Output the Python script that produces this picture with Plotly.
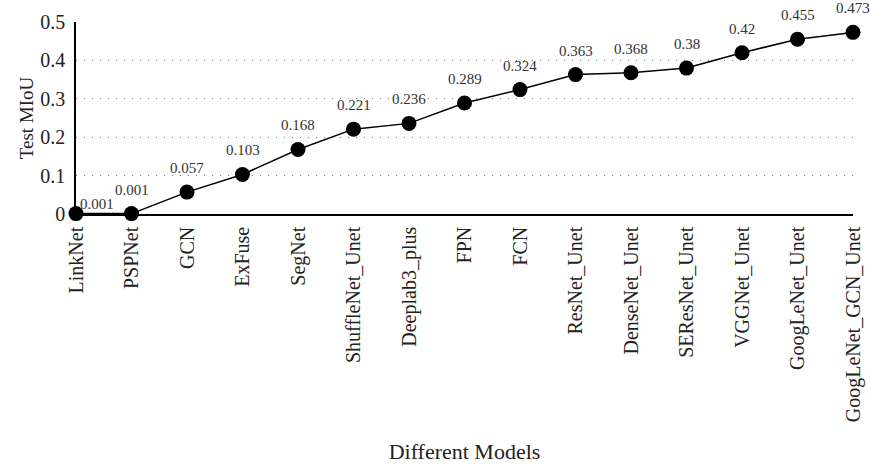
import plotly.graph_objects as go

models = ["LinkNet", "PSPNet", "GCN", "ExFuse", "SegNet", "ShuffleNet_Unet", "Deeplab3_plus",
          "FPN", "FCN", "ResNet_Unet", "DenseNet_Unet", "SEResNet_Unet", "VGGNet_Unet",
          "GoogLeNet_Unet", "GoogLeNet_GCN_Unet"]
miou = [0.001, 0.001, 0.057, 0.103, 0.168, 0.221, 0.236, 0.289, 0.324, 0.363, 0.368, 0.38, 0.42, 0.455, 0.473]
labels = ["0.001", "0.001", "0.057", "0.103", "0.168", "0.221", "0.236", "0.289", "0.324",
          "0.363", "0.368", "0.38", "0.42", "0.455", "0.473"]
y_ticks = [0, 0.1, 0.2, 0.3, 0.4, 0.5]
y_tick_text = ["0", "0.1", "0.2", "0.3", "0.4", "0.5"]

FONT = "Liberation Serif"
x = list(range(len(models)))

fig = go.Figure()
fig.add_trace(go.Scatter(
    x=x, y=miou, mode="lines+markers",
    line=dict(color="black", width=1.5),
    marker=dict(color="black", size=15),
    cliponaxis=False, showlegend=False, hoverinfo="skip",
))

for i, (xv, yv, t) in enumerate(zip(x, miou, labels)):
    if i == 0:
        fig.add_annotation(x=xv, y=yv, text=t, showarrow=False, xanchor="left", yanchor="bottom",
                           xshift=2, yshift=0, font=dict(family=FONT, size=15, color="#333"))
    else:
        fig.add_annotation(x=xv, y=yv, text=t, showarrow=False, xanchor="center", yanchor="bottom",
                           yshift=14, font=dict(family=FONT, size=15, color="#333"))

fig.update_layout(
    width=870, height=464,
    margin=dict(l=76, r=17, t=22, b=250, autoexpand=False),
    plot_bgcolor="white", paper_bgcolor="white",
    font=dict(family=FONT, size=18, color="#222"),
    xaxis=dict(
        range=[0, len(models) - 1], tickvals=x, ticktext=models, tickangle=-90,
        showgrid=False, zeroline=False, showline=True, linecolor="black", linewidth=1.5,
        ticks="", tickfont=dict(family=FONT, size=20, color="#222"), automargin=False,
        ticklabelstandoff=3,
        title=dict(text="Different Models", font=dict(family=FONT, size=22, color="#222"), standoff=26),
    ),
    yaxis=dict(
        range=[0, 0.5], tickvals=y_ticks, ticktext=y_tick_text,
        showgrid=True, gridcolor="#777", griddash="1px,7px", gridwidth=1,
        zeroline=False, showline=True, linecolor="black", linewidth=1.5,
        ticks="", tickfont=dict(family=FONT, size=20, color="#222"), automargin=False,
        ticklabelstandoff=5,
        title=dict(text="Test MIoU", font=dict(family=FONT, size=19, color="#222"), standoff=2),
    ),
)

fig.write_html("out.html", config={"displayModeBar": False},
               post_script="document.body.style.margin='0';")
